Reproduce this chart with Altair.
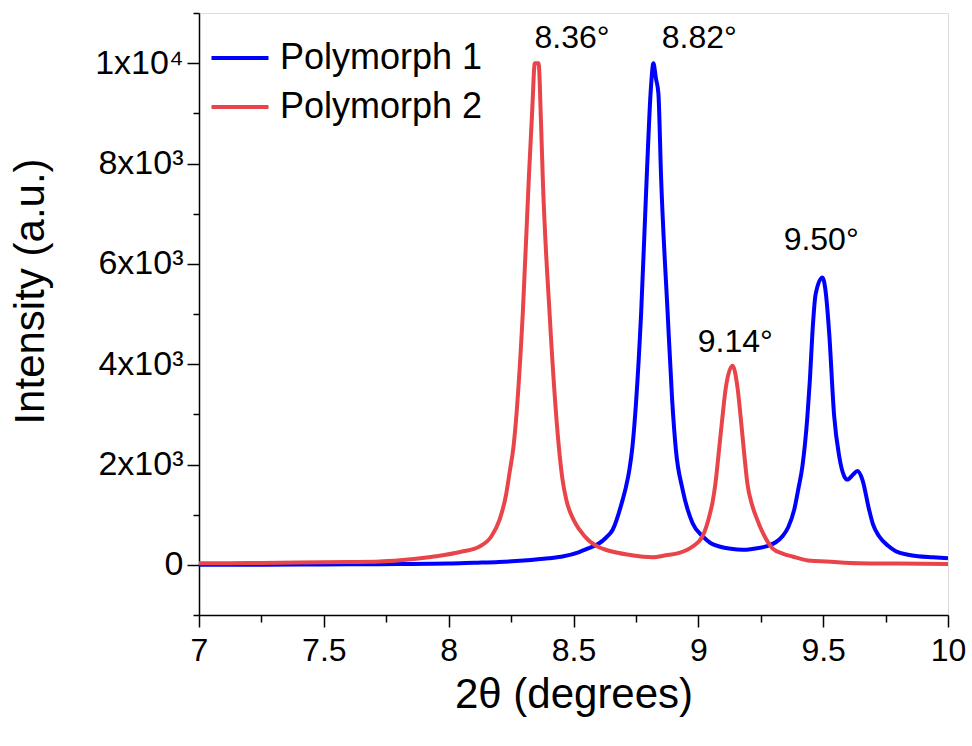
import altair as alt
import pandas as pd

# Polymorph 1 (blue)
p1_x = [7.00, 7.20, 7.40, 7.60, 7.80, 8.00, 8.10, 8.20, 8.30, 8.40, 8.46, 8.52, 8.56,
        8.60, 8.63, 8.657, 8.697, 8.71, 8.724, 8.737, 8.75, 8.771, 8.793, 8.81, 8.82, 8.83, 8.84,
        8.851, 8.877, 8.895, 8.91, 8.937, 8.977, 9.017, 9.05, 9.084, 9.13, 9.177, 9.22,
        9.271, 9.31, 9.337, 9.36, 9.384, 9.40, 9.417, 9.437, 9.447, 9.457, 9.47, 9.497,
        9.511, 9.524, 9.544, 9.564, 9.584, 9.597, 9.62, 9.637, 9.657, 9.684, 9.70, 9.724,
        9.76, 9.791, 9.84, 9.88, 9.94, 10.00]
p1_y = [0, 0, 5, 10, 15, 25, 40, 55, 85, 130, 170, 250, 330,
        420, 540, 700, 1300, 1550, 1900, 2400, 3200, 5030, 7700, 9500, 10000, 9700, 9400,
        7700, 5030, 3300, 2300, 1500, 830, 570, 430, 366, 320, 300, 320,
        366, 450, 570, 750, 1100, 1500, 1970, 2970, 3700, 4630, 5400, 5730,
        5400, 4630, 2970, 2170, 1770, 1700, 1800, 1870, 1700, 1100, 800, 570,
        380, 270, 200, 170, 150, 130]

# Polymorph 2 (red)
p2_x = [7.00, 7.20, 7.40, 7.60, 7.724, 7.85, 7.95, 8.05, 8.124, 8.17, 8.204, 8.23,
        8.244, 8.26, 8.297, 8.321, 8.335, 8.345, 8.36, 8.37, 8.377, 8.404, 8.441,
        8.456, 8.471, 8.50, 8.524, 8.56, 8.591, 8.65, 8.724, 8.816, 8.87, 8.924, 8.977,
        9.017, 9.044, 9.057, 9.068, 9.081, 9.095, 9.11, 9.137, 9.157, 9.171, 9.184, 9.197,
        9.215, 9.232, 9.26, 9.297, 9.34, 9.377, 9.45, 9.511, 9.644, 9.80, 10.00]
p2_y = [30, 35, 45, 55, 66, 110, 170, 260, 366, 560, 900, 1400,
        1840, 2370, 5030, 7700, 9100, 10000, 10000, 8800, 7700, 5030, 2370,
        1700, 1300, 900, 700, 490, 380, 270, 200, 153, 190, 240, 366,
        570, 970, 1250, 1600, 2200, 2870, 3530, 3970, 3530, 2870, 2200, 1600,
        1200, 950, 620, 330, 220, 166, 80, 66, 33, 25, 15]

series_names = ["Polymorph 1", "Polymorph 2"]
series_colors = ["#0000FF", "#E8444A"]

ann_x = [8.494, 9.004, 9.148, 9.492]
ann_y = [10500, 10500, 4440, 6480]
ann_text = ["8.36°", "8.82°", "9.14°", "9.50°"]

x_ticks = [7.0, 7.25, 7.5, 7.75, 8.0, 8.25, 8.5, 8.75, 9.0, 9.25, 9.5, 9.75, 10.0]
y_ticks = [-1000, 0, 1000, 2000, 3000, 4000, 5000, 6000, 7000, 8000, 9000, 10000, 11000]

df = pd.concat([
    pd.DataFrame({"x": p1_x, "y": p1_y, "series": series_names[0], "order": range(len(p1_x))}),
    pd.DataFrame({"x": p2_x, "y": p2_y, "series": series_names[1], "order": range(len(p2_x))}),
])
ann = pd.DataFrame({"x": ann_x, "y": ann_y, "t": ann_text})

FONT = "Liberation Sans"

xscale = alt.Scale(domain=[7, 10], nice=False, zero=False)
yscale = alt.Scale(domain=[-1000, 11000], nice=False, zero=False)

x_axis = alt.Axis(
    values=x_ticks, format="~g",
    labelExpr="(round(datum.value*4) % 2 === 0) ? datum.label : ''",
    tickSize={"condition": {"test": "round(datum.value*4) % 2 === 0", "value": 12}, "value": 7},
    title="2θ (degrees)", titleFontSize=42, titleFont=FONT, titleFontWeight="normal",
    titlePadding=8, labelFontSize=32, labelFont=FONT, labelPadding=8,
    grid=False, domainColor="black", tickColor="black", labelColor="black",
    titleColor="black", domainWidth=1.5, tickWidth=1.5, labelFlush=False, labelOverlap=False,
)
y_axis = alt.Axis(
    values=y_ticks,
    labelExpr="datum.value === 0 ? '0' : (datum.value === 10000 ? '1x10⁴' : ((datum.value % 2000 === 0 && datum.value > 0) ? (datum.value/1000) + 'x10³' : ''))",
    tickSize={"condition": {"test": "datum.value % 2000 === 0", "value": 12}, "value": 6},
    title="Intensity (a.u.)", titleFontSize=42, titleFont=FONT, titleFontWeight="normal",
    titleX=-169, titleY=278, titleAngle=270, titleAlign="center", titleBaseline="middle",
    labelFontSize=34, labelFont=FONT, labelPadding=4,
    grid=False, domainColor="black", tickColor="black", labelColor="black",
    titleColor="black", domainWidth=1.5, tickWidth=1.5, labelFlush=False, labelOverlap=False,
)

lines = alt.Chart(df).mark_line(strokeWidth=4, clip=True, interpolate="monotone").encode(
    x=alt.X("x:Q", scale=xscale, axis=x_axis),
    y=alt.Y("y:Q", scale=yscale, axis=y_axis),
    color=alt.Color(
        "series:N",
        scale=alt.Scale(domain=series_names, range=series_colors),
        legend=alt.Legend(
            title=None, orient="none", legendX=23, legendY=27,
            symbolType="M-2,0H2", symbolSize=812, symbolStrokeWidth=4,
            labelFontSize=36, labelFont=FONT, labelColor="black", labelLimit=0,
            labelOffset=22, rowPadding=13, padding=0,
        ),
    ),
    order="order:Q",
)

labels = alt.Chart(ann).mark_text(fontSize=32, font=FONT, color="black").encode(
    x=alt.X("x:Q", scale=xscale),
    y=alt.Y("y:Q", scale=yscale),
    text="t:N",
)

chart = alt.layer(lines, labels).properties(
    width=749, height=602,
    padding={"left": 199, "top": 13, "right": 24, "bottom": 131},
    autosize=alt.AutoSizeParams(type="none"),
).configure_view(stroke="black", strokeWidth=1.5).configure(background="white")

chart.save("out.html", embed_options={"renderer": "svg", "actions": False})
